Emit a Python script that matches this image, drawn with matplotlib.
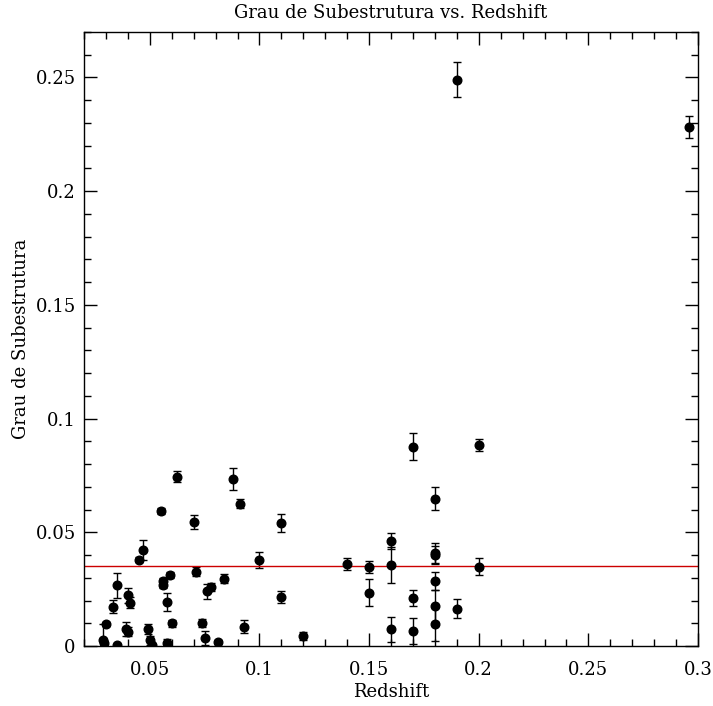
import matplotlib
matplotlib.use("Agg")
import matplotlib.pyplot as plt
from matplotlib.ticker import MultipleLocator

redshift = [0.0287, 0.029, 0.030, 0.0332, 0.035, 0.035, 0.039, 0.040, 0.040, 0.041,
            0.045, 0.047, 0.049, 0.050, 0.051, 0.055, 0.056, 0.056, 0.058, 0.058,
            0.059, 0.060, 0.0624, 0.070, 0.071, 0.074, 0.075, 0.076, 0.078, 0.081,
            0.084, 0.088, 0.091, 0.093, 0.100, 0.110, 0.110, 0.120, 0.140, 0.150,
            0.150, 0.160, 0.160, 0.160, 0.170, 0.170, 0.170, 0.180, 0.180, 0.180,
            0.180, 0.180, 0.180, 0.190, 0.190, 0.200, 0.200, 0.296]
substructure = [0.0028, 0.0013, 0.0097, 0.0172, 0.0268, 0.0003, 0.0075, 0.0062, 0.0224, 0.019,
                0.038, 0.042, 0.0075, 0.0026, 0.0005, 0.0594, 0.0286, 0.0268, 0.0195, 0.0013,
                0.0312, 0.010, 0.0745, 0.0546, 0.0326, 0.010, 0.0035, 0.024, 0.026, 0.0018,
                0.0295, 0.0735, 0.0625, 0.0085, 0.0378, 0.054, 0.0216, 0.0044, 0.036, 0.0346,
                0.0234, 0.0462, 0.0357, 0.0074, 0.0877, 0.021, 0.0066, 0.0647, 0.041, 0.040,
                0.0286, 0.0176, 0.0097, 0.249, 0.0163, 0.0884, 0.0348, 0.2284]
errors = [0.0068, 0.001, 0.0008, 0.0029, 0.0055, 0.0005, 0.003, 0.002, 0.0033, 0.0024,
          0.001, 0.0044, 0.0022, 0.002, 0.0005, 0.0012, 0.0015, 0.0015, 0.004, 0.0017,
          0.0015, 0.0015, 0.0025, 0.003, 0.002, 0.0018, 0.003, 0.0033, 0.0018, 0.0008,
          0.002, 0.0048, 0.002, 0.003, 0.0035, 0.004, 0.0025, 0.0017, 0.0026, 0.0026,
          0.006, 0.0037, 0.0079, 0.0055, 0.006, 0.0036, 0.0057, 0.005, 0.0045, 0.004,
          0.004, 0.007, 0.0075, 0.0077, 0.0042, 0.0027, 0.0037, 0.0048]
mean_level = 0.035

plt.rcParams['font.family'] = ['DejaVu Serif']

fig = plt.figure(figsize=(7.13, 7.06), dpi=100)
ax = fig.add_axes([84/713, 60/706, 614/713, 614/706])

ax.errorbar(redshift, substructure, yerr=errors, fmt='o', color='black',
            ms=6.2, elinewidth=1, capsize=3, capthick=1, ecolor='black')
ax.axhline(mean_level, color='#cc0000', lw=1)

ax.set_xlim(0.02, 0.3)
ax.set_ylim(0, 0.27)
ax.xaxis.set_major_locator(MultipleLocator(0.05))
ax.xaxis.set_minor_locator(MultipleLocator(0.01))
ax.yaxis.set_major_locator(MultipleLocator(0.05))
ax.yaxis.set_minor_locator(MultipleLocator(0.01))

def fmt(v, pos):
    s = ('%.2f' % v).rstrip('0').rstrip('.')
    return s if s else '0'
ax.xaxis.set_major_formatter(plt.FuncFormatter(fmt))
ax.yaxis.set_major_formatter(plt.FuncFormatter(fmt))

ax.tick_params(which='both', direction='in', top=True, right=True, labelsize=13, width=1)
ax.tick_params(which='major', length=9.4)
ax.tick_params(which='minor', length=4.7)
ax.tick_params(axis='x', pad=11)
ax.tick_params(axis='y', pad=6)
for s in ax.spines.values():
    s.set_linewidth(1)

ax.set_xlabel('Redshift', fontsize=13, labelpad=3)
ax.set_ylabel('Grau de Subestrutura', fontsize=13, labelpad=4)
ax.set_title('Grau de Subestrutura vs. Redshift', fontsize=13, pad=10)

fig.savefig('out.png', dpi=100)
